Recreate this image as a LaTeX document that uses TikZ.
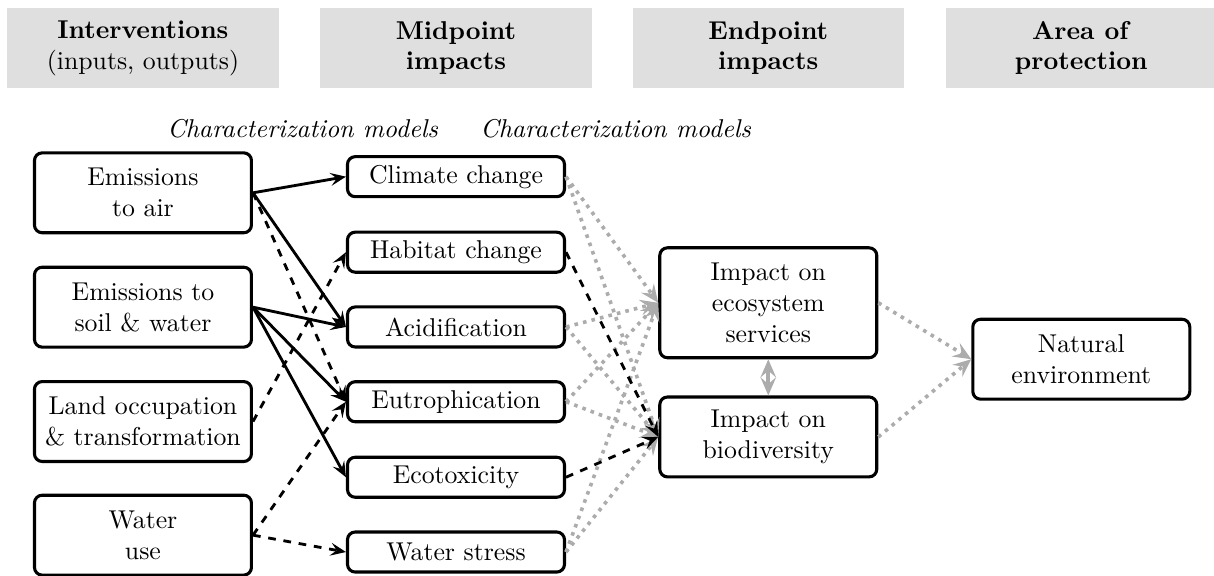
\documentclass[tikz,border=0pt]{standalone}
\usepackage{tikz}
\usetikzlibrary{arrows.meta}

\tikzset{
    stagebox/.style={fill=gray!25,align=center,minimum width=3.7cm,minimum height=1.09cm},
    impactbox/.style={draw,rounded corners=3pt,line width=1.2pt,align=center,minimum width=2.96cm,inner sep=2pt},
    flow/.style={-{Stealth[length=6pt,width=5pt,inset=2.4pt]},line width=1.1pt},
    link/.style={-{Stealth[length=7pt,width=6pt,inset=2.6pt]},gray!65,line width=1.4pt,dotted},
}

\begin{document}
\begin{tikzpicture}

    \useasboundingbox (0,0) rectangle (16.56,-7.857);

    % stages
    \node[stagebox] (stint) at (1.95,-0.655) {\textbf{Interventions}\\(inputs, outputs)};
    \node[stagebox] (stmid) at (6.22,-0.655) {\textbf{Midpoint}\\\textbf{impacts}};
    \node[stagebox] (stend) at (10.48,-0.655) {\textbf{Endpoint}\\\textbf{impacts}};
    \node[stagebox] (stprot) at (14.75,-0.655) {\textbf{Area of}\\\textbf{protection}};

    % characterization models
    \node (charone) at (4.13,-1.75) {\textit{Characterization models}};
    \node (chartwo) at (8.40,-1.75) {\textit{Characterization models}};

    %%%%%%%%%%%%%%%%%%%%%%%%%%%%%%%%%%%%%%%%%%%%%%%%%%%%%%

    % interventions
    \node[impactbox,minimum height=1.09cm] (emair) at (1.95,-2.63) {Emissions\\to air};
    \node[impactbox,minimum height=1.09cm] (emsoil) at (1.95,-4.19) {Emissions to\\soil \& water};
    \node[impactbox,minimum height=1.09cm] (land) at (1.95,-5.75) {Land occupation\\\& transformation};
    \node[impactbox,minimum height=1.09cm] (water) at (1.95,-7.30) {Water\\use};

    %%%%%%%%%%%%%%%%%%%%%%%%%%%%%%%%%%%%%%%%%%%%%%%%%%%%%%

    % midpoint impacts
    \node[impactbox,minimum height=0.546cm] (climate) at (6.22,-2.41) {Climate change};
    \node[impactbox,minimum height=0.546cm] (habitat) at (6.22,-3.44) {Habitat change};
    \node[impactbox,minimum height=0.546cm] (acid) at (6.22,-4.46) {Acidification};
    \node[impactbox,minimum height=0.546cm] (eutro) at (6.22,-5.48) {Eutrophication};
    \node[impactbox,minimum height=0.546cm] (ecotox) at (6.22,-6.51) {Ecotoxicity};
    \node[impactbox,minimum height=0.546cm] (stress) at (6.22,-7.53) {Water stress};

    %%%%%%%%%%%%%%%%%%%%%%%%%%%%%%%%%%%%%%%%%%%%%%%%%%%%%%

    % endpoint impacts
    \node[impactbox,minimum height=1.5cm] (ecosys) at (10.48,-4.13) {Impact on\\ecosystem\\services};
    \node[impactbox,minimum height=1.09cm] (biodiv) at (10.48,-5.96) {Impact on\\biodiversity};

    % area of protection
    \node[impactbox,minimum height=1.09cm] (natenv) at (14.75,-4.90) {Natural\\environment};

    %%%%%%%%%%%%%%%%%%%%%%%%%%%%%%%%%%%%%%%%%%%%%%%%%%%%%%

    % midpoint to endpoint (gray)
    \draw[link] (climate.east) to (ecosys.west);
    \draw[link] (climate.east) to (biodiv.west);
    \draw[link] (acid.east) to (ecosys.west);
    \draw[link] (acid.east) to (biodiv.west);
    \draw[link] (eutro.east) to (ecosys.west);
    \draw[link] (eutro.east) to (biodiv.west);
    \draw[link] (stress.east) to (ecosys.west);
    \draw[link] (stress.east) to (biodiv.west);

    % emissions to air
    \draw[flow] (emair.east) to (climate.west);
    \draw[flow] (emair.east) to (acid.west);
    \draw[flow,dashed] (emair.east) to (eutro.west);

    % emissions to soil & water
    \draw[flow] (emsoil.east) to (acid.west);
    \draw[flow] (emsoil.east) to (eutro.west);
    \draw[flow] (emsoil.east) to (ecotox.west);

    % land use
    \draw[flow,dashed] (land.east) to (habitat.west);

    % water use
    \draw[flow,dashed] (water.east) to (eutro.west);
    \draw[flow,dashed] (water.east) to (stress.west);

    %%%%%%%%%%%%%%%%%%%%%%%%%%%%%%%%%%%%%%%%%%%%%%%%%%%%%%

    % midpoint to endpoint (black)
    \draw[flow,dashed] (habitat.east) to (biodiv.west);
    \draw[flow,dashed] (ecotox.east) to (biodiv.west);

    % between endpoints
    \draw[{Stealth[length=7pt,width=6pt,inset=2.6pt]}-{Stealth[length=7pt,width=6pt,inset=2.6pt]},gray!65,line width=1.4pt] (ecosys.south) to (biodiv.north);

    % endpoint to area of protection
    \draw[link] (ecosys.east) to (natenv.west);
    \draw[link] (biodiv.east) to (natenv.west);

\end{tikzpicture}
\end{document}
